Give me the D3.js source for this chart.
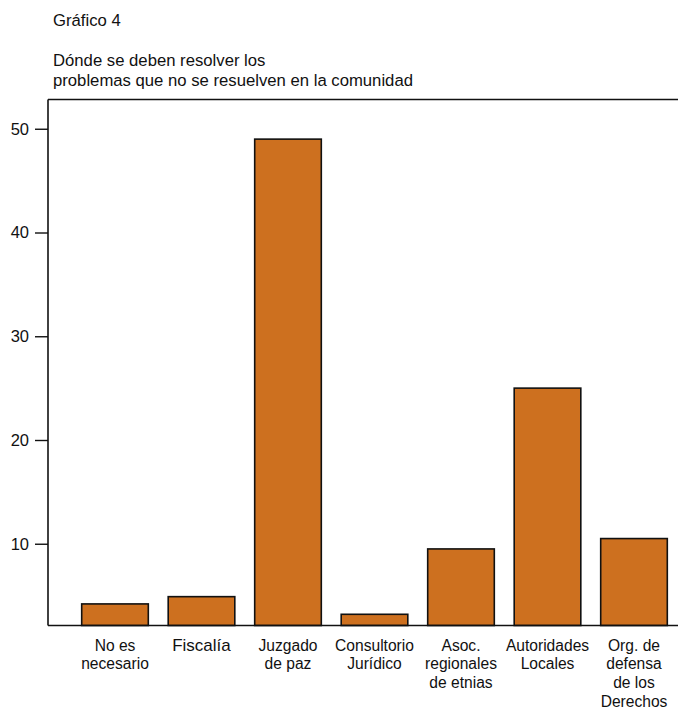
<!DOCTYPE html>
<html><head><meta charset="utf-8">
<script src="https://cdn.jsdelivr.net/npm/d3@7"></script>
<style>
body{margin:0;background:#fff;}
text{font-family:"Liberation Sans",Arial,Helvetica,sans-serif;fill:#111;}
</style></head>
<body>
<svg id="chart" width="678" height="709"></svg>
<script>
const categories = [
  ["No es","necesario"],
  ["Fiscalía"],
  ["Juzgado","de paz"],
  ["Consultorio","Jurídico"],
  ["Asoc.","regionales","de etnias"],
  ["Autoridades","Locales"],
  ["Org. de","defensa","de los","Derechos"]
];
const values = [4.2, 4.9, 49, 3.2, 9.5, 25, 10.5];
const yTicks = [10, 20, 30, 40, 50];
const titleLines = ["Gráfico 4"];
const subtitleLines = ["Dónde se deben resolver los","problemas que no se resuelven en la comunidad"];

(function(){
const svg = d3.select("#chart");
const mLeft = 48, mRight = 678, mTop = 99.5, mBottom = 625.5;
const keys = categories.map(c => c.join(" "));

const x = d3.scaleBand().domain(keys).range([71.75, 677.25]).paddingInner(0.23).paddingOuter(0.115);
const y = d3.scaleLinear().domain([2.12, 52.82]).range([mBottom, mTop]);

// titles
svg.append("text").attr("x", 53).attr("y", 26).style("font-size", "16.7px").text(titleLines[0]);
subtitleLines.forEach((t, i) => {
  svg.append("text").attr("x", 53).attr("y", 66 + i * 20).style("font-size", "16.7px").text(t);
});

// bars
svg.selectAll("rect.bar").data(values).join("rect")
  .attr("class", "bar")
  .attr("x", (d, i) => x(keys[i]))
  .attr("width", x.bandwidth())
  .attr("y", d => y(d))
  .attr("height", d => mBottom - y(d))
  .attr("fill", "#cd701f")
  .attr("stroke", "#111")
  .attr("stroke-width", 1.6);

// frame lines
svg.append("line").attr("x1", mLeft).attr("x2", mRight).attr("y1", mTop).attr("y2", mTop)
  .attr("stroke", "#111").attr("stroke-width", 1.6);
svg.append("line").attr("x1", mLeft).attr("x2", mRight).attr("y1", mBottom).attr("y2", mBottom)
  .attr("stroke", "#111").attr("stroke-width", 1.6);

// y axis
const yAxis = d3.axisLeft(y).tickValues(yTicks).tickSize(13).tickPadding(6).tickSizeOuter(0);
const ga = svg.append("g").attr("transform", `translate(${mLeft},0)`).call(yAxis);
ga.select(".domain").attr("stroke", "#111").attr("stroke-width", 1.6).attr("d", `M0,${mTop}V${mBottom}`);
ga.selectAll(".tick line").attr("stroke", "#111").attr("stroke-width", 1.4);
ga.selectAll(".tick text").style("font-size", "16.5px").attr("fill", "#111")
  .style("font-family", '"Liberation Sans",Arial,Helvetica,sans-serif');

// x labels
const xl = svg.append("g");
categories.forEach((lines, i) => {
  const cx = x(keys[i]) + x.bandwidth() / 2;
  const fs = lines.length === 1 ? 17 : 15.6;
  const t = xl.append("text").attr("text-anchor", "middle").style("font-size", fs + "px");
  lines.forEach((ln, j) => {
    t.append("tspan").attr("x", cx).attr("y", 650.5 + j * 18.8).text(ln);
  });
});
})();
</script>
</body></html>
